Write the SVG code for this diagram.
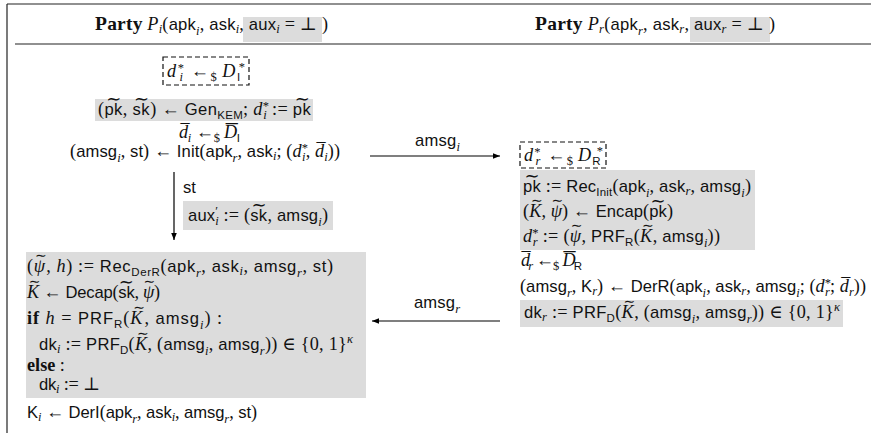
<svg xmlns="http://www.w3.org/2000/svg" width="871" height="433" viewBox="0 0 871 433">
<defs>
<style>
text { font-family: "Liberation Serif", "DejaVu Serif", serif; font-size: 18.2px; fill: #111; }
.s { font-family: "Liberation Sans", "DejaVu Sans", sans-serif; font-size: 16.6px; }
.m { font-style: italic; }
.b { font-weight: bold; }
.bh { font-weight: bold; font-size: 19.5px; }
.ss { font-family: "Liberation Sans", "DejaVu Sans", sans-serif; font-size: 11.5px; }
.si { font-style: italic; font-size: 12.5px; }
.sup { font-size: 12.5px; }
.t { font-family: "DejaVu Sans", sans-serif; font-size: 18px; }
.tk { font-family: "DejaVu Sans", sans-serif; font-size: 14px; }
.ovD { font-size: 24px; }
.frame { stroke: #222; stroke-width: 1.2; fill: none; }
.hl { fill: #dcdcdc; }
.dash { fill: none; stroke: #111; stroke-width: 1.2; stroke-dasharray: 5 3; }
.wire { stroke: #000; stroke-width: 1.2; fill: none; }
</style>
<marker id="head" viewBox="0 0 10 10" refX="10" refY="5" markerWidth="7" markerHeight="7" markerUnits="userSpaceOnUse" orient="auto"><path d="M0,1 L10,5 L0,9 z" fill="#000"/></marker>
</defs>
<rect width="871" height="433" fill="#fff"/>

<!-- protocol frame -->
<g id="frame">
<line class="frame" x1="7" y1="4" x2="871" y2="4"/>
<line class="frame" x1="7" y1="4" x2="7" y2="433"/>
<line class="frame" x1="15" y1="44" x2="871" y2="44"/>
</g>

<!-- column headers -->
<g id="header-initiator">
<rect class="hl" x="243" y="17" width="79" height="25"/>
<text x="95" y="30" textLength="233"><tspan class="bh">Party</tspan> <tspan class="m">P</tspan><tspan class="si" dy="3">i</tspan><tspan dy="-3">(</tspan><tspan class="s">apk</tspan><tspan class="si" dy="5">i</tspan><tspan dy="-5">, </tspan><tspan class="s">ask</tspan><tspan class="si" dy="3">i</tspan><tspan dy="-3">, </tspan><tspan class="s">aux</tspan><tspan class="si" dy="3">i</tspan><tspan dy="-3"> = ⊥ )</tspan></text>
</g>
<g id="header-responder">
<rect class="hl" x="690" y="17" width="80" height="25"/>
<text x="535" y="30" textLength="240"><tspan class="bh">Party</tspan> <tspan class="m">P</tspan><tspan class="si" dy="3">r</tspan><tspan dy="-3">(</tspan><tspan class="s">apk</tspan><tspan class="si" dy="5">r</tspan><tspan dy="-5">, </tspan><tspan class="s">ask</tspan><tspan class="si" dy="3">r</tspan><tspan dy="-3">, </tspan><tspan class="s">aux</tspan><tspan class="si" dy="3">r</tspan><tspan dy="-3"> = ⊥ )</tspan></text>
</g>

<!-- initiator: setup -->
<g id="init-sample-dstar">
<rect class="dash" x="163" y="57" width="86" height="28"/>
<text x="167" y="77" textLength="78"><tspan class="m">d</tspan><tspan class="sup" dy="-5">*</tspan><tspan class="si" dx="-6" dy="9">i</tspan><tspan dy="-4"> ←</tspan><tspan class="sup" dy="4">$</tspan><tspan class="m" dx="4" dy="-4">D</tspan><tspan class="ss" dy="4">I</tspan><tspan class="sup" dx="-3" dy="-10">*</tspan></text>
</g>
<g id="init-kem-gen">
<rect class="hl" x="95" y="99" width="218" height="22"/>
<text x="98" y="115" textLength="213">(<tspan class="s">pk</tspan><tspan class="t" dx="-16.3" dy="-10">∼</tspan><tspan dx="1.2" dy="10">, </tspan><tspan class="s">sk</tspan><tspan class="t" dx="-15.8" dy="-10">∼</tspan><tspan dx="0.8" dy="10">) ← </tspan><tspan class="s">Gen</tspan><tspan class="ss" dy="4">KEM</tspan><tspan dy="-4">; </tspan><tspan class="m">d</tspan><tspan class="sup" dy="-5">*</tspan><tspan class="si" dx="-6" dy="9">i</tspan><tspan dy="-4"> := </tspan><tspan class="s">pk</tspan><tspan class="t" dx="-16.3" dy="-10">∼</tspan></text>
</g>
<g id="init-sample-dbar">
<text x="179" y="138" textLength="61"><tspan class="m">d</tspan><tspan dx="-7.6" dy="-16">_</tspan><tspan class="si" dx="-1.5" dy="20">i</tspan><tspan dy="-4"> ←</tspan><tspan class="sup" dy="4">$</tspan><tspan class="m" dx="4" dy="-4">D</tspan><tspan class="ovD" dx="-11.1" dy="-17">_</tspan><tspan class="ss" dx="-0.9" dy="21">I</tspan></text>
</g>
<g id="init-call">
<text x="70" y="157" textLength="270">(<tspan class="s">amsg</tspan><tspan class="si" dy="5">i</tspan><tspan dy="-5">, </tspan><tspan class="s">st</tspan>) ← <tspan class="s">Init</tspan>(<tspan class="s">apk</tspan><tspan class="si" dy="5">r</tspan><tspan dy="-5">, </tspan><tspan class="s">ask</tspan><tspan class="si" dy="3">i</tspan><tspan dy="-3">; (</tspan><tspan class="m">d</tspan><tspan class="sup" dy="-5">*</tspan><tspan class="si" dx="-6" dy="9">i</tspan><tspan dy="-4">, </tspan><tspan class="m">d</tspan><tspan dx="-7.6" dy="-16">_</tspan><tspan class="si" dx="-1.5" dy="20">i</tspan><tspan dy="-4">))</tspan></text>
</g>
<g id="init-aux">
<text class="s" x="183" y="193">st</text>
<rect class="hl" x="183" y="201" width="150" height="29"/>
<text x="188" y="221" textLength="140"><tspan class="s">aux</tspan><tspan class="sup" dy="-6">′</tspan><tspan class="si" dx="-3" dy="10">i</tspan><tspan dy="-4"> := (</tspan><tspan class="s">sk</tspan><tspan class="t" dx="-15.8" dy="-10">∼</tspan><tspan dx="0.8" dy="10">, </tspan><tspan class="s">amsg</tspan><tspan class="si" dy="5">i</tspan><tspan dy="-5">)</tspan></text>
</g>

<!-- initiator: key derivation -->
<g id="init-derive">
<rect class="hl" x="26" y="252" width="340" height="146"/>
<text x="27" y="272" textLength="306">(<tspan class="m">ψ</tspan><tspan class="tk" dx="-10.6" dy="-12">∼</tspan><tspan dx="-1.2" dy="12">, </tspan><tspan class="m">h</tspan>) := <tspan class="s">Rec</tspan><tspan class="ss" dy="4">DerR</tspan><tspan dy="-4">(</tspan><tspan class="s">apk</tspan><tspan class="si" dy="5">r</tspan><tspan dy="-5">, </tspan><tspan class="s">ask</tspan><tspan class="si" dy="3">i</tspan><tspan dy="-3">, </tspan><tspan class="s">amsg</tspan><tspan class="si" dy="5">r</tspan><tspan dy="-5">, </tspan><tspan class="s">st</tspan>)</text>
<text x="27" y="298" textLength="133"><tspan class="m">K</tspan><tspan class="tk" dx="-10.3" dy="-12">∼</tspan><tspan dx="-1.4" dy="12"> ← </tspan><tspan class="s">Decap</tspan>(<tspan class="s">sk</tspan><tspan class="t" dx="-15.8" dy="-10">∼</tspan><tspan dx="0.8" dy="10">, </tspan><tspan class="m">ψ</tspan><tspan class="tk" dx="-10.6" dy="-12">∼</tspan><tspan dx="-1.2" dy="12">)</tspan></text>
<text x="27" y="324" textLength="195"><tspan class="b">if</tspan> <tspan class="m">h</tspan> = <tspan class="s">PRF</tspan><tspan class="ss" dy="4">R</tspan><tspan dy="-4">(</tspan><tspan class="m">K</tspan><tspan class="tk" dx="-10.3" dy="-12">∼</tspan><tspan dx="-1.4" dy="12">, </tspan><tspan class="s">amsg</tspan><tspan class="si" dy="5">i</tspan><tspan dy="-5">) :</tspan></text>
<text x="39" y="350" textLength="314"><tspan class="s">dk</tspan><tspan class="si" dy="3">i</tspan><tspan dy="-3"> := </tspan><tspan class="s">PRF</tspan><tspan class="ss" dy="4">D</tspan><tspan dy="-4">(</tspan><tspan class="m">K</tspan><tspan class="tk" dx="-10.3" dy="-12">∼</tspan><tspan dx="-1.4" dy="12">, (</tspan><tspan class="s">amsg</tspan><tspan class="si" dy="5">i</tspan><tspan dy="-5">, </tspan><tspan class="s">amsg</tspan><tspan class="si" dy="5">r</tspan><tspan dy="-5">)) ∈ {0, 1}</tspan><tspan class="si" dy="-7">κ</tspan></text>
<text x="27" y="371"><tspan class="b">else</tspan> :</text>
<text x="39" y="390" textLength="61"><tspan class="s">dk</tspan><tspan class="si" dy="3">i</tspan><tspan dy="-3"> := ⊥</tspan></text>
</g>
<g id="init-final">
<text x="27" y="418" textLength="230"><tspan class="s">K</tspan><tspan class="si" dy="3">i</tspan><tspan dy="-3"> ← </tspan><tspan class="s">DerI</tspan>(<tspan class="s">apk</tspan><tspan class="si" dy="5">r</tspan><tspan dy="-5">, </tspan><tspan class="s">ask</tspan><tspan class="si" dy="3">i</tspan><tspan dy="-3">, </tspan><tspan class="s">amsg</tspan><tspan class="si" dy="5">r</tspan><tspan dy="-5">, </tspan><tspan class="s">st</tspan>)</text>
</g>

<!-- responder -->
<g id="resp-sample-dstar">
<rect class="dash" x="520" y="142" width="86" height="26"/>
<text x="524" y="161" textLength="79"><tspan class="m">d</tspan><tspan class="sup" dy="-5">*</tspan><tspan class="si" dx="-6" dy="9">r</tspan><tspan dy="-4"> ←</tspan><tspan class="sup" dy="4">$</tspan><tspan class="m" dx="4" dy="-4">D</tspan><tspan class="ss" dy="4">R</tspan><tspan class="sup" dx="-5" dy="-10">*</tspan></text>
</g>
<g id="resp-encap">
<rect class="hl" x="520" y="170" width="235" height="80"/>
<text x="523" y="192" textLength="228"><tspan class="s">pk</tspan><tspan class="t" dx="-16.3" dy="-10">∼</tspan><tspan dx="1.2" dy="10"> := </tspan><tspan class="s">Rec</tspan><tspan class="ss" dy="4">Init</tspan><tspan dy="-4">(</tspan><tspan class="s">apk</tspan><tspan class="si" dy="5">i</tspan><tspan dy="-5">, </tspan><tspan class="s">ask</tspan><tspan class="si" dy="3">r</tspan><tspan dy="-3">, </tspan><tspan class="s">amsg</tspan><tspan class="si" dy="5">i</tspan><tspan dy="-5">)</tspan></text>
<text x="523" y="217" textLength="150">(<tspan class="m">K</tspan><tspan class="tk" dx="-10.3" dy="-12">∼</tspan><tspan dx="-1.4" dy="12">, </tspan><tspan class="m">ψ</tspan><tspan class="tk" dx="-10.6" dy="-12">∼</tspan><tspan dx="-1.2" dy="12">) ← </tspan><tspan class="s">Encap</tspan>(<tspan class="s">pk</tspan><tspan class="t" dx="-16.3" dy="-10">∼</tspan><tspan dx="1.2" dy="10">)</tspan></text>
<text x="523" y="242" textLength="197"><tspan class="m">d</tspan><tspan class="sup" dy="-5">*</tspan><tspan class="si" dx="-6" dy="9">r</tspan><tspan dy="-4"> := (</tspan><tspan class="m">ψ</tspan><tspan class="tk" dx="-10.6" dy="-12">∼</tspan><tspan dx="-1.2" dy="12">, </tspan><tspan class="s">PRF</tspan><tspan class="ss" dy="4">R</tspan><tspan dy="-4">(</tspan><tspan class="m">K</tspan><tspan class="tk" dx="-10.3" dy="-12">∼</tspan><tspan dx="-1.4" dy="12">, </tspan><tspan class="s">amsg</tspan><tspan class="si" dy="5">i</tspan><tspan dy="-5">))</tspan></text>
</g>
<g id="resp-sample-dbar">
<text x="521" y="266" textLength="61"><tspan class="m">d</tspan><tspan dx="-7.6" dy="-16">_</tspan><tspan class="si" dx="-1.5" dy="20">r</tspan><tspan dy="-4"> ←</tspan><tspan class="sup" dy="4">$</tspan><tspan class="m" dx="4" dy="-4">D</tspan><tspan class="ovD" dx="-11.1" dy="-17">_</tspan><tspan class="ss" dx="-0.9" dy="21">R</tspan></text>
</g>
<g id="resp-derive">
<text x="520" y="292" textLength="346">(<tspan class="s">amsg</tspan><tspan class="si" dy="5">r</tspan><tspan dy="-5">, </tspan><tspan class="s">K</tspan><tspan class="si" dy="3">r</tspan><tspan dy="-3">) ← </tspan><tspan class="s">DerR</tspan>(<tspan class="s">apk</tspan><tspan class="si" dy="5">i</tspan><tspan dy="-5">, </tspan><tspan class="s">ask</tspan><tspan class="si" dy="3">r</tspan><tspan dy="-3">, </tspan><tspan class="s">amsg</tspan><tspan class="si" dy="5">i</tspan><tspan dy="-5">; (</tspan><tspan class="m">d</tspan><tspan class="sup" dy="-5">*</tspan><tspan class="si" dx="-6" dy="9">r</tspan><tspan dy="-4">; </tspan><tspan class="m">d</tspan><tspan dx="-7.6" dy="-16">_</tspan><tspan class="si" dx="-1.5" dy="20">r</tspan><tspan dy="-4">))</tspan></text>
</g>
<g id="resp-dk">
<rect class="hl" x="520" y="300" width="323" height="27"/>
<text x="524" y="318" textLength="316"><tspan class="s">dk</tspan><tspan class="si" dy="3">r</tspan><tspan dy="-3"> := </tspan><tspan class="s">PRF</tspan><tspan class="ss" dy="4">D</tspan><tspan dy="-4">(</tspan><tspan class="m">K</tspan><tspan class="tk" dx="-10.3" dy="-12">∼</tspan><tspan dx="-1.4" dy="12">, (</tspan><tspan class="s">amsg</tspan><tspan class="si" dy="5">i</tspan><tspan dy="-5">, </tspan><tspan class="s">amsg</tspan><tspan class="si" dy="5">r</tspan><tspan dy="-5">)) ∈ {0, 1}</tspan><tspan class="si" dy="-7">κ</tspan></text>
</g>

<!-- messages and state flow -->
<g id="connectors">
<line class="wire" x1="370" y1="156" x2="500" y2="156" marker-end="url(#head)"/>
<text x="415" y="146" textLength="45"><tspan class="s">amsg</tspan><tspan class="si" dy="5">i</tspan></text>
<line class="wire" x1="500" y1="321" x2="372" y2="321" marker-end="url(#head)"/>
<text x="414" y="308" textLength="46"><tspan class="s">amsg</tspan><tspan class="si" dy="5">r</tspan></text>
<line class="wire" x1="174" y1="172" x2="174" y2="240" marker-end="url(#head)"/>
</g>
</svg>
